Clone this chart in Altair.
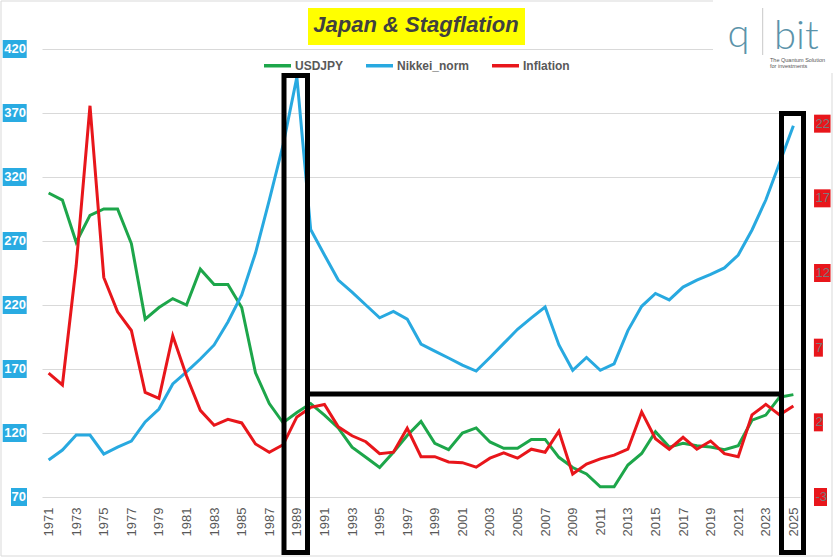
import altair as alt
import pandas as pd

# ---------------- data ----------------
years = list(range(1971, 2026))
usdjpy = [307.5, 302, 269, 290, 295, 295, 268, 209, 218, 225,
          220, 248, 236, 236, 218, 167, 143, 128, 136, 143,
          134, 124, 109, 101, 93, 105, 118, 129, 112, 107,
          120, 124, 113, 108, 108, 115, 115, 101, 93, 88,
          78, 78, 95, 104, 121, 109, 112, 110, 109, 107,
          110, 130, 134, 148, 150]
nikkei_norm = [98.9, 106.7, 118.4, 118.4, 103.6, 109, 113.7, 128.6, 138.7, 158.3,
               167.7, 177.8, 188.8, 206.7, 227.8, 260.6, 302, 345, 398, 279,
               259, 239.5, 230, 220, 210, 215, 209, 189.5, 184, 178.6,
               173, 168.4, 179, 190, 201, 210, 218.4, 188.8, 169, 179,
               169, 174, 200, 219, 229, 224, 234, 239.5, 244, 249,
               259, 278.6, 302, 331, 360]
inflation = [5.3, 4.5, 12.5, 23.2, 11.7, 9.4, 8.15, 4.0, 3.6, 7.8,
             5.1, 2.8, 1.8, 2.2, 1.96, 0.55, 0.0, 0.5, 2.36, 3.0,
             3.2, 1.7, 1.1, 0.7, -0.1, 0.0, 1.6, -0.3, -0.3, -0.65,
             -0.7, -1.0, -0.4, -0.05, -0.4, 0.2, 0.0, 1.4, -1.46, -0.8,
             -0.45, -0.2, 0.2, 2.7, 0.9, 0.2, 1.0, 0.2, 0.75, -0.1,
             -0.3, 2.5, 3.2, 2.5, 3.1]

left_ticks = [70, 120, 170, 220, 270, 320, 370, 420]
right_ticks = [-3, 2, 7, 12, 17, 22]
x_label_years = list(range(1971, 2026, 2))

series_names = ["USDJPY", "Nikkei_norm", "Inflation"]
series_colors = ["#1da64a", "#28a9e0", "#e8161b"]

title_text = "Japan & Stagflation"
logo_q = "q"
logo_bit = "bit"
logo_sub1 = "The Quantum Solution"
logo_sub2 = "for investments"

# ---------------- tables ----------------
df = pd.DataFrame({"Year": years, "USDJPY": usdjpy,
                   "Nikkei_norm": nikkei_norm, "Inflation": inflation})
left_df = pd.DataFrame({"v": left_ticks, "label": [str(v) for v in left_ticks]})
right_df = pd.DataFrame({"v": right_ticks, "label": [str(v) for v in right_ticks]})
one = pd.DataFrame({"k": [0]})

FONT = "Liberation Sans"
W, H = 758, 448
BLUE_BOX = "#29abe2"
RED_BOX = "#e8161b"

left_scale = alt.Scale(domain=[70, 420], nice=False, zero=False)
right_scale = alt.Scale(domain=[-3, 27], nice=False, zero=False)
color_scale = alt.Scale(domain=series_names, range=series_colors)

x_enc = alt.X("Year:O",
              scale=alt.Scale(type="point", padding=0.48),
              axis=alt.Axis(values=x_label_years, labelAngle=-90, labelFontSize=13,
                            labelColor="#595959", labelFont=FONT, labelPadding=10,
                            ticks=False, domain=False, title=None, grid=False))

legend = alt.Legend(orient="none", legendX=220, legendY=1, direction="horizontal",
                    title=None, symbolType="stroke", symbolSize=729,
                    symbolStrokeWidth=3.5, labelFont=FONT, labelFontSize=12,
                    labelFontWeight="bold", labelColor="#595959", labelOffset=2,
                    columnPadding=15, padding=0)

# ---------------- decorations (background) ----------------
border = alt.Chart(one).mark_rect(filled=False, stroke="#d9d9d9", strokeWidth=1).encode(
    x=alt.value(-41), x2=alt.value(790), y=alt.value(-48), y2=alt.value(507))
logo_bg = alt.Chart(one).mark_rect(color="white").encode(
    x=alt.value(671), x2=alt.value(792), y=alt.value(-49), y2=alt.value(24))

# ---------------- lines ----------------
lines_left = alt.Chart(df).transform_fold(
    ["USDJPY", "Nikkei_norm"], as_=["Series", "Value"]
).mark_line(strokeWidth=3).encode(
    x=x_enc,
    y=alt.Y("Value:Q", scale=left_scale,
            axis=alt.Axis(values=left_ticks, grid=True, gridColor="#d9d9d9", gridWidth=1,
                          labels=False, ticks=False, domain=False, title=None)),
    color=alt.Color("Series:N", scale=color_scale, legend=legend),
)

lines_right = alt.Chart(df).transform_calculate(Series="'Inflation'").mark_line(strokeWidth=3).encode(
    x=x_enc,
    y=alt.Y("Inflation:Q", scale=right_scale, axis=None),
    color=alt.Color("Series:N", scale=color_scale, legend=legend),
)

# ---------------- black frames ----------------
frame_1989 = alt.Chart(one).mark_rect(filled=False, stroke="black", strokeWidth=5).encode(
    x=alt.value(242), x2=alt.value(265.5), y=alt.value(26.5), y2=alt.value(503.5))
frame_2025 = alt.Chart(one).mark_rect(filled=False, stroke="black", strokeWidth=5).encode(
    x=alt.value(739.5), x2=alt.value(761.5), y=alt.value(64.5), y2=alt.value(503.5))
bridge = alt.Chart(one).mark_rule(stroke="black", strokeWidth=5).encode(
    x=alt.value(263), x2=alt.value(741), y=alt.value(345))

# ---------------- axis label boxes ----------------
def box(data, flt, scale, cx, width, color):
    return alt.Chart(data).transform_filter(flt).mark_tick(
        orient="horizontal", thickness=18, size=width, color=color, opacity=1
    ).encode(y=alt.Y("v:Q", scale=scale, axis=None), x=alt.value(cx))

left_box3 = box(left_df, "datum.v >= 100", left_scale, -27.3, 24, BLUE_BOX)
left_box2 = box(left_df, "datum.v < 100", left_scale, -23, 16, BLUE_BOX)
right_box2 = box(right_df, "datum.v >= 10", right_scale, 780.3, 16.5, RED_BOX)
right_boxm = box(right_df, "datum.v < 0", right_scale, 778.5, 13, RED_BOX)
right_box1 = box(right_df, "datum.v >= 0 && datum.v < 10", right_scale, 776.4, 9, RED_BOX)

left_text = alt.Chart(left_df).mark_text(
    align="right", baseline="middle", font=FONT, fontSize=13, fontWeight="bold", color="white"
).encode(y=alt.Y("v:Q", scale=left_scale, axis=None), x=alt.value(-16), text="label:N")

right_text = alt.Chart(right_df).mark_text(
    align="left", baseline="middle", font=FONT, fontSize=13, color="#7a7a7a"
).encode(y=alt.Y("v:Q", scale=right_scale, axis=None), x=alt.value(773.5), text="label:N")

# ---------------- title ----------------
title_bg = alt.Chart(one).mark_rect(color="#ffff00").encode(
    x=alt.value(266), x2=alt.value(483), y=alt.value(-41), y2=alt.value(-4))
title = alt.Chart(one).mark_text(
    font=FONT, fontSize=22, fontWeight="bold", fontStyle="italic", color="#404040",
    align="center", baseline="alphabetic"
).encode(x=alt.value(374), y=alt.value(-17), text=alt.value(title_text))

# ---------------- logo ----------------
logo_color = "#5b93aa"
q_txt = alt.Chart(one).mark_text(font="Lato", fontSize=40, fontWeight=300, color=logo_color,
                                 align="center", baseline="alphabetic").encode(
    x=alt.value(696.5), y=alt.value(-2), text=alt.value(logo_q))
bit_txt = alt.Chart(one).mark_text(font="Lato", fontSize=40, fontWeight=300, color=logo_color,
                                   align="left", baseline="alphabetic").encode(
    x=alt.value(732), y=alt.value(0), text=alt.value(logo_bit))
sep = alt.Chart(one).mark_rule(color="#c8c8c8", strokeWidth=1).encode(
    x=alt.value(720.7), y=alt.value(-41), y2=alt.value(6))
sub1 = alt.Chart(one).mark_text(font=FONT, fontSize=5.5, color="#555555", align="left",
                                baseline="alphabetic").encode(
    x=alt.value(728), y=alt.value(13), text=alt.value(logo_sub1))
sub2 = alt.Chart(one).mark_text(font=FONT, fontSize=5.5, color="#555555", align="left",
                                baseline="alphabetic").encode(
    x=alt.value(728), y=alt.value(19), text=alt.value(logo_sub2))

chart = alt.layer(
    border, logo_bg,
    lines_left, lines_right,
    frame_1989, frame_2025, bridge,
    left_box3, left_box2, right_box2, right_boxm, right_box1,
    left_text, right_text,
    title_bg, title,
    q_txt, bit_txt, sep, sub1, sub2,
).resolve_scale(y="independent").properties(
    width=W, height=H,
    autosize=alt.AutoSizeParams(type="none"),
    padding={"left": 42, "top": 49, "right": 33, "bottom": 60},
    background="white",
).configure_view(strokeOpacity=0)

chart.save("out.html", embed_options={"renderer": "svg", "actions": False})
